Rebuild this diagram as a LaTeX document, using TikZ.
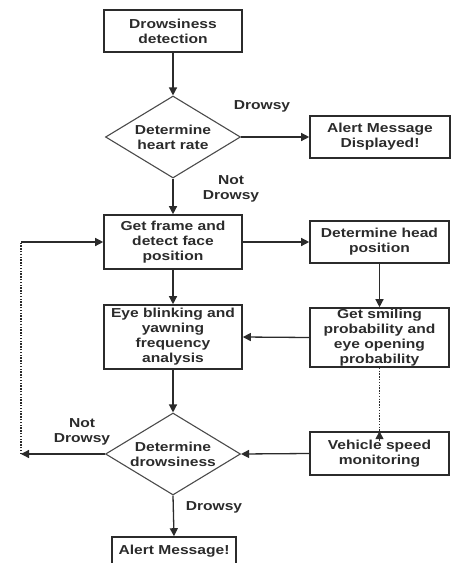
\documentclass[tikz,border=0pt]{standalone}
\usepackage{fontspec}
\setmainfont{Liberation Sans}[FakeStretch=1.2]
\usetikzlibrary{shapes.geometric,arrows.meta}
\definecolor{ink}{HTML}{2B2B2B}
\begin{document}
\begin{tikzpicture}[x=1pt,y=-1pt,
  every node/.style={text=ink,font=\fontsize{13}{15}\selectfont\bfseries},
  box/.style={draw=ink,line width=1.6pt,align=center,inner sep=0pt},
  dia/.style={diamond,draw=ink!85,line width=1.1pt,align=center,inner sep=0pt,aspect=1.65,minimum width=135pt,minimum height=82pt},
  lbl/.style={align=center,inner sep=0pt},
  arr/.style={draw=ink,line width=1.3pt,-{Triangle[length=8pt,width=8pt]}},
  dotl/.style={draw=ink,line width=1.5pt,dash pattern=on 1.4pt off 1.4pt}
]
\useasboundingbox (0,0) rectangle (453,563);
\node[box,minimum width=138pt,minimum height=42pt] (det) at (173,31) {Drowsiness\\detection};
\node[dia] (hr) at (173,137) {Determine\\heart rate};
\node[box,minimum width=140pt,minimum height=42pt] (alert1) at (380,137) {Alert Message\\Displayed!};
\node[box,minimum width=138pt,minimum height=54pt] (frame) at (173,242) {Get frame and\\detect face\\position};
\node[box,minimum width=139pt,minimum height=42pt] (head) at (379.5,242) {Determine head\\position};
\node[box,minimum width=138pt,minimum height=64pt] (eye) at (173,337) {Eye blinking and\\yawning\\frequency\\analysis};
\node[box,minimum width=139pt,minimum height=59pt] (smile) at (379.5,337.5) {Get smiling\\probability and\\eye opening\\probability};
\node[dia] (dd) at (173,454) {Determine\\drowsiness};
\node[box,minimum width=139pt,minimum height=43pt] (veh) at (379.5,453.5) {Vehicle speed\\monitoring};
\node[box,minimum width=124pt,minimum height=28pt] (alert2) at (174,551) {Alert Message!};

\node[lbl] (l1) at (262,106) {Drowsy};
\node[lbl] (l2) at (231,189) {Not\\Drowsy};
\node[lbl] (l3) at (82,432) {Not\\Drowsy};
\node[lbl] (l4) at (214,507) {Drowsy};

\coordinate (c1) at (21,454);
\coordinate (c2) at (21,242);

\draw[arr] (det.south) -- (hr.north);
\draw[arr] (hr.east) -- (alert1.west);
\draw[arr] (hr.south) -- (frame.north);
\draw[arr] (frame.east) -- (head.west);
\draw[arr] (frame.south) -- (eye.north);
\draw[arr] (head.south) -- (smile.north);
\draw[arr] (smile.west) -- (eye.east);
\draw[arr] (eye.south) -- (dd.north);
\draw[dotl] (smile.south) -- ([yshift=-9pt]veh.north);
\draw[arr] ([yshift=-10pt]veh.north) -- (veh.north);
\draw[arr] (veh.west) -- (dd.east);
\draw[arr] (dd.west) -- (c1);
\draw[dotl] (c1) -- (c2);
\draw[arr] (c2) -- (frame.west);
\draw[arr] (dd.south) -- (alert2.north);
\end{tikzpicture}
\end{document}
